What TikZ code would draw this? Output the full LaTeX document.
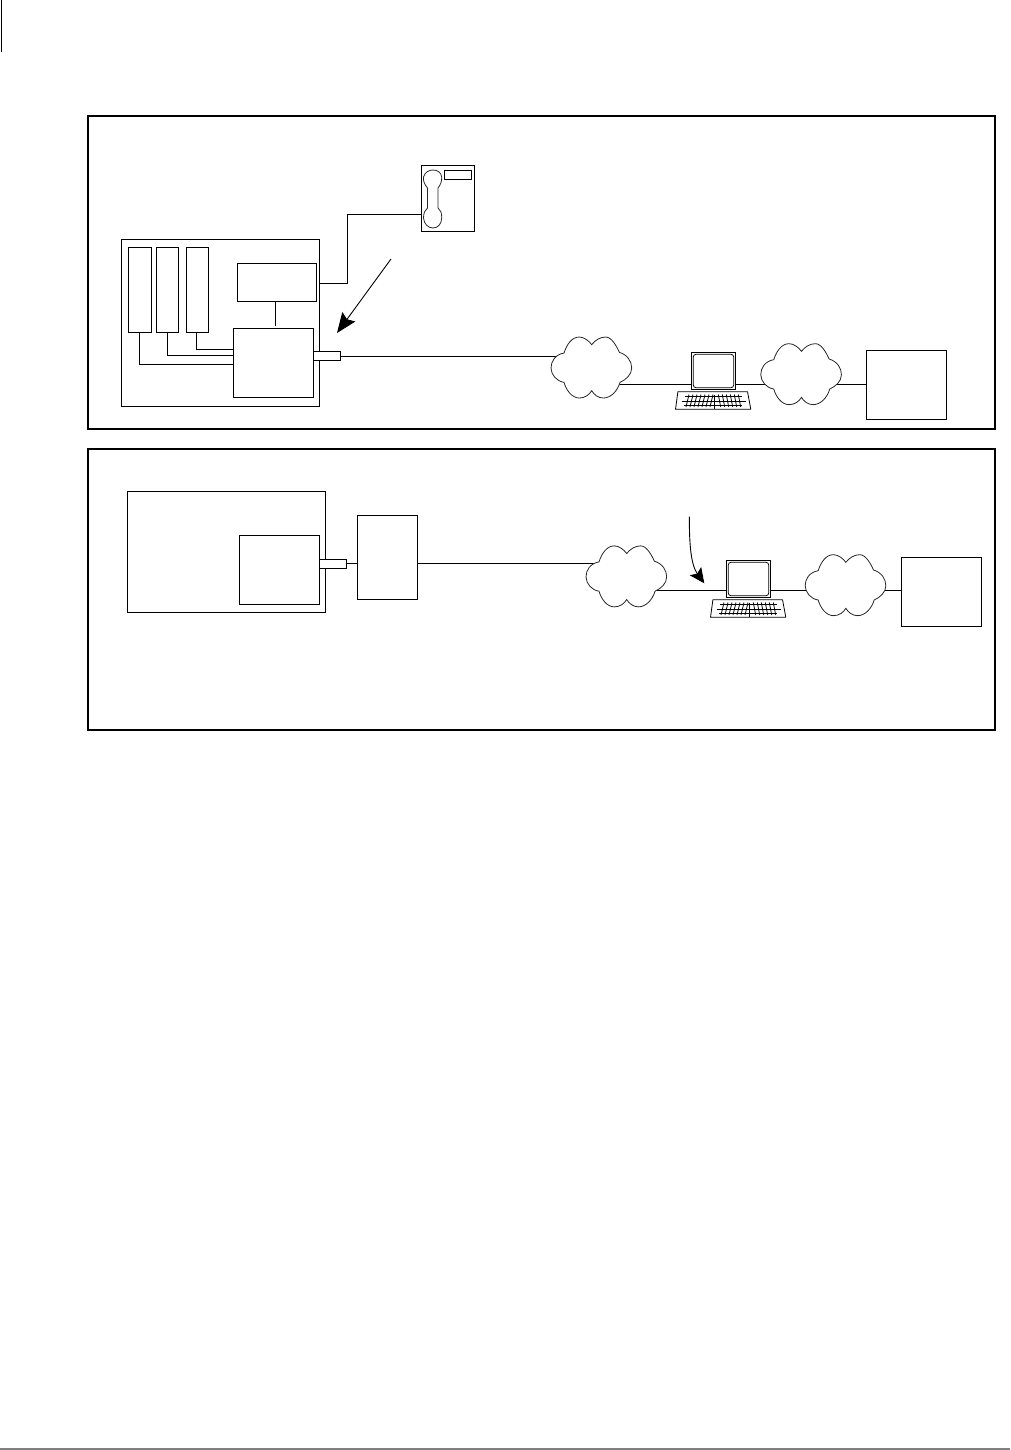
\documentclass[tikz,border=0pt]{standalone}
\usetikzlibrary{arrows.meta,calc}
\pgfdeclarelayer{back}
\pgfsetlayers{back,main}
\tikzset{
  frm/.style={draw=black,line width=2pt,inner sep=0pt,outer sep=0pt},
  bx/.style={draw=black,line width=1pt,inner sep=0pt,outer sep=0pt},
  plug/.style={bx,fill=white},
  ghost/.style={inner sep=0pt,outer sep=0pt},
  conn/.style={draw=black,line width=1pt},
  callout/.style={draw=black,line width=.9pt,-{Stealth[length=20pt,width=16pt,inset=3pt]}},
  calloutb/.style={draw=black,line width=.9pt,-{Stealth[length=15pt,width=14pt,inset=3pt]}},
  cloudline/.style={draw=black!85,line width=.8pt,fill=white},
  thinline/.style={draw=black,line width=.8pt},
}
% #1 style, #2 name, #3..#6 x1 y1 x2 y2 in pixels
\newcommand{\bxnode}[6]{%
  \pgfmathsetmacro{\myw}{#5-#3}\pgfmathsetmacro{\myh}{#6-#4}%
  \pgfmathsetmacro{\mycx}{(#3+#5)/2}\pgfmathsetmacro{\mycy}{(#4+#6)/2}%
  \node[#1,minimum width=\myw pt,minimum height=\myh pt] (#2) at (\mycx,\mycy) {};}
\newcommand{\cloudat}[1]{%
  \draw[cloudline,shift={(#1.center)},x=.33333pt,y=-.33333pt,shift={(-154,-113)}]
   (33,115) .. controls (33,95) and (45,75) .. (72,70)
   .. controls (80,45) and (95,22) .. (118,22)
   .. controls (133,22) and (148,35) .. (155,45)
   .. controls (165,32) and (180,22) .. (197,22)
   .. controls (215,22) and (230,50) .. (238,68)
   .. controls (262,75) and (275,95) .. (275,115)
   .. controls (275,135) and (258,150) .. (240,158)
   .. controls (232,185) and (212,205) .. (190,205)
   .. controls (175,205) and (162,195) .. (155,183)
   .. controls (148,195) and (135,205) .. (118,205)
   .. controls (95,205) and (78,180) .. (72,158)
   .. controls (50,155) and (33,135) .. (33,115) -- cycle;}
\newcommand{\termdetail}[1]{%
  \begin{scope}[shift={(#1.center)}]
    \draw[thinline,rounded corners=3pt] (-20.3,-16.8) rectangle (20.3,16.8);
    \draw[thinline,line join=round] (-35.6,20.7) -- (34,20.7) -- (37.3,38.3) -- (-38,38.3) -- cycle;
    \draw[thinline] (-28.5,25) -- (28.5,25);
    \draw[thinline] (-32,30) -- (32,30);
    \draw[thinline] (-30,34.5) -- (28.5,34.5);
    \foreach \k in {-26,-22,-18,-14,-10,-6,-2}{\draw[thinline] (\k+1.5,23.5) -- (\k-1.5,36);}
    \foreach \k in {6,10,14,18,22,26}{\draw[thinline] (\k-1.2,23.5) -- (\k+1.2,36);}
    \draw[thinline] (0.8,23.5) -- (0.8,38.3);
  \end{scope}}
\begin{document}
\begin{tikzpicture}[x=1pt,y=-1pt]
\useasboundingbox (0,0) rectangle (1010,1450);
% page marks
\coordinate (ma) at (1.5,0); \coordinate (mb) at (1.5,52);
\draw[line width=1.3pt] (ma) -- (mb);
\coordinate (fa) at (0,1449); \coordinate (fb) at (1010,1449);
\draw[line width=2pt,draw=black!50] (fa) -- (fb);
% frames
\bxnode{frm}{frameA}{88}{116}{995}{429}
\bxnode{frm}{frameB}{88}{449}{995}{730}
%%% upper panel
\bxnode{bx}{cabinetA}{121.5}{239.5}{319.5}{406.5}
\bxnode{bx}{cardA}{128.5}{247.5}{151.5}{332.5}
\bxnode{bx}{cardB}{156.5}{247.5}{178.5}{332.5}
\bxnode{bx}{cardC}{186.5}{247.5}{208.5}{332.5}
\bxnode{bx}{upper}{237.5}{263.5}{316.5}{301.5}
\bxnode{bx}{procA}{233.5}{328.5}{313.5}{397.5}
\bxnode{plug}{plugA}{313.5}{351.5}{340.5}{360.5}
\bxnode{bx}{phone}{421.5}{165.5}{474.5}{231.5}
\bxnode{bx}{display}{444.5}{170.5}{471.5}{179.5}
\bxnode{ghost}{cloudA}{551}{336.7}{631.7}{398}
\bxnode{ghost}{cloudB}{760.7}{343.3}{841.5}{404.7}
\bxnode{plug}{termA}{691.5}{352.5}{735.5}{389.5}
\bxnode{bx}{hostA}{866.5}{350.5}{946.5}{419.5}
\cloudat{cloudA}\cloudat{cloudB}\termdetail{termA}
% handset
\draw[draw=black!85,line width=.8pt,shift={(phone.center)},shift={(-448,-198.5)}]
  (427.5,188) .. controls (424,184) and (423,180) .. (423.5,177)
  .. controls (425,172) and (429,170) .. (433,170)
  .. controls (437,170) and (441,172) .. (441.7,177)
  .. controls (442,181) and (440.5,185) .. (438,188) -- (438,208)
  .. controls (440.5,210) and (442,213) .. (441.7,218)
  .. controls (441.5,224) and (438,228) .. (433,228)
  .. controls (428,228) and (424,224) .. (423.5,218)
  .. controls (423.5,213) and (425,210) .. (427.5,208) -- cycle;
\coordinate (upGap) at (275.5,325.5);
\coordinate (calloutAs) at (391,259);
\coordinate (calloutAe) at (337,333);
\path[callout] (calloutAs) -- (calloutAe);
\begin{pgfonlayer}{back}
  \draw[conn] (upper.south -| upGap) -- (upGap);
  \draw[conn] (cardA.south -| 139.5,0) |- (procA.west |- 0,364.5);
  \draw[conn] (cardB.south -| 167.5,0) |- (procA.west |- 0,355.5);
  \draw[conn] (cardC.south -| 196.5,0) |- (procA.west |- 0,349.5);
  \draw[conn] (cabinetA.east |- 0,283.5) -- (347.5,283.5) -- (347.5,214.5) -- (phone.west |- 0,214.5);
  \draw[conn] (plugA.east |- 0,356.5) -- (cloudA.center |- 0,356.5);
  \draw[conn] (cloudA.center |- 0,384.5) -- (termA.west |- 0,384.5);
  \draw[conn] (termA.east |- 0,384.5) -- (cloudB.center |- 0,384.5);
  \draw[conn] (cloudB.center |- 0,384.5) -- (hostA.west |- 0,384.5);
\end{pgfonlayer}
%%% lower panel
\bxnode{bx}{cabinetB}{127.5}{491.5}{325.5}{612.5}
\bxnode{plug}{procB}{239.5}{535.5}{319.5}{604.5}
\bxnode{plug}{plugB}{319.5}{559.5}{346.5}{568.5}
\bxnode{bx}{gateway}{357.5}{515.5}{417.5}{599.5}
\bxnode{ghost}{cloudC}{586}{545.7}{666.7}{606.7}
\bxnode{ghost}{cloudD}{805.3}{554.3}{885.7}{615.7}
\bxnode{plug}{termB}{726.5}{560.5}{770.5}{597.5}
\bxnode{bx}{hostB}{901.5}{557.5}{981.5}{626.5}
\cloudat{cloudC}\cloudat{cloudD}\termdetail{termB}
\coordinate (calloutBs) at (689.3,516.7);
\coordinate (calloutBe) at (704.3,583.3);
\path[calloutb] (calloutBs) .. controls (689.3,545) and (691,565) .. (calloutBe);
\begin{pgfonlayer}{back}
  \draw[conn] (plugB.east |- 0,563.5) -- (gateway.west |- 0,563.5);
  \draw[conn] (gateway.east |- 0,563.5) -- (cloudC.center |- 0,563.5);
  \draw[conn] (cloudC.center |- 0,590.5) -- (termB.west |- 0,590.5);
  \draw[conn] (termB.east |- 0,590.5) -- (cloudD.center |- 0,590.5);
  \draw[conn] (cloudD.center |- 0,590.5) -- (hostB.west |- 0,590.5);
\end{pgfonlayer}
\end{tikzpicture}
\end{document}
